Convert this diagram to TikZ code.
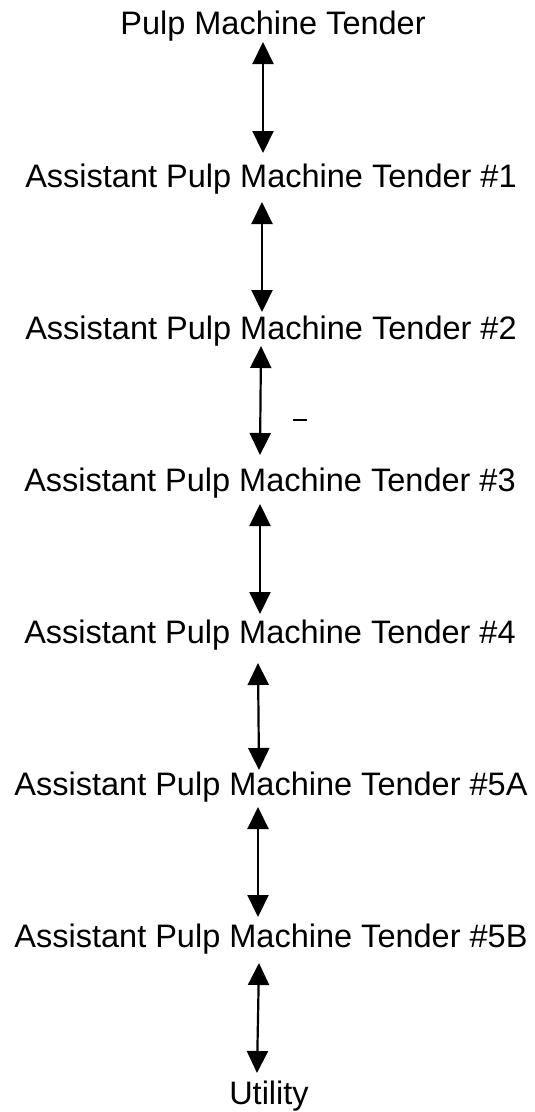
\documentclass[tikz,border=0pt]{standalone}
\usepackage{fontspec}
\setmainfont{Liberation Sans}
\usetikzlibrary{arrows.meta}
\begin{document}
\begin{tikzpicture}[x=1pt,y=-1pt,
  role/.style={anchor=base,inner sep=0pt,font=\fontsize{32.5}{32.5}\selectfont},
  dbl/.style={line width=2.2pt,{Triangle[width=21pt,length=22pt]}-{Triangle[width=21pt,length=22pt]}}]
\useasboundingbox (0,0) rectangle (535,1112);
\node[role] (t0) at (273,34) {Pulp Machine Tender};
\node[role] (t1) at (271,187) {Assistant Pulp Machine Tender \#1};
\node[role] (t2) at (271,339) {Assistant Pulp Machine Tender \#2};
\node[role] (t3) at (270,491) {Assistant Pulp Machine Tender \#3};
\node[role] (t4) at (270,643) {Assistant Pulp Machine Tender \#4};
\node[role] (t5) at (271,795) {Assistant Pulp Machine Tender \#5A};
\node[role] (t6) at (271,947) {Assistant Pulp Machine Tender \#5B};
\node[role] (t7) at (269,1104) {Utility};
\draw[dbl] ([shift={(-10,8)}]t0.base) -- ([shift={(-8,-34)}]t1.base);
\draw[dbl] ([shift={(-9,15)}]t1.base) -- ([shift={(-9,-27)}]t2.base);
\draw[dbl] ([shift={(-10,7)}]t2.base) -- ([shift={(-10,-36)}]t3.base);
\draw[dbl] ([shift={(-10,13)}]t3.base) -- ([shift={(-10,-29)}]t4.base);
\draw[dbl] ([shift={(-12,20)}]t4.base) -- ([shift={(-12,-25)}]t5.base);
\draw[dbl] ([shift={(-13,12)}]t5.base) -- ([shift={(-13,-30)}]t6.base);
\draw[dbl] ([shift={(-12,16)}]t6.base) -- ([shift={(-12,-31)}]t7.base);
\coordinate (m1) at (293,420);
\coordinate (m2) at (307,420);
\draw[line width=1.8pt] (m1) -- (m2);
\end{tikzpicture}
\end{document}
